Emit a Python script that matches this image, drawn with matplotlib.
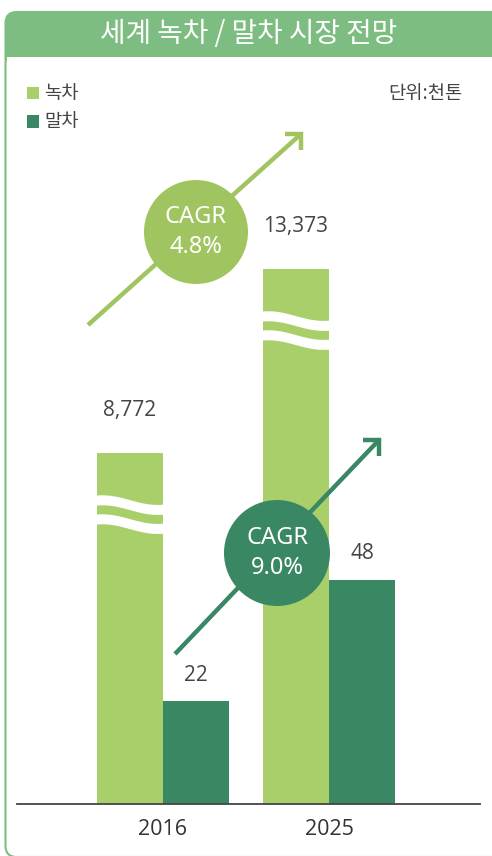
import matplotlib
matplotlib.use('Agg')
import matplotlib.pyplot as plt
import numpy as np
from matplotlib.patches import FancyBboxPatch, Rectangle, Circle, Polygon
from matplotlib.lines import Line2D

# ---- data ----
years = ['2016', '2025']
green_tea = [8772, 13373]      # 녹차 (thousand tons)
matcha = [22, 48]              # 말차 (thousand tons)
series_names = ['녹차', '말차']
cagr_labels = ['CAGR\n4.8%', 'CAGR\n9.0%']
title_text = '세계 녹차 / 말차 시장 전망'
unit_text = '단위:천톤'

# ---- style ----
C_LIGHT = '#a9cf6b'
C_DARK = '#3a8764'
C_LIGHT_DECO = '#a0c45f'
C_FRAME = '#7dbd82'
C_TEXT = '#444444'

plt.rcParams['font.family'] = ['Noto Sans CJK KR', 'DejaVu Sans']
NUM_FONT = ['Open Sans', 'Noto Sans CJK KR', 'DejaVu Sans']

W, H = 492, 856
fig = plt.figure(figsize=(W / 100, H / 100), dpi=100)
T = fig.dpi_scale_trans


def inch(x, y):
    return (x / 100, (H - y) / 100)


def ftxt(x, y, s, **kw):
    return fig.text(x / W, 1 - y / H, s, **kw)


# ---- frame and banner ----
banner = FancyBboxPatch(inch(5.5, 67), (600 - 5.5) / 100, 0.55,
                        boxstyle='round,pad=0,rounding_size=0.11',
                        transform=T, facecolor=C_FRAME, edgecolor='none', zorder=1)
fig.add_artist(banner)
cover = Rectangle(inch(7, 69), 6.0, 0.12, transform=T, facecolor='white',
                  edgecolor='none', zorder=1.5)
fig.add_artist(cover)
frame = FancyBboxPatch(inch(5.5, 857), (600 - 5.5) / 100, (857 - 12) / 100,
                       boxstyle='round,pad=0,rounding_size=0.11',
                       transform=T, facecolor='none', edgecolor=C_FRAME,
                       linewidth=1.5, zorder=2)
fig.add_artist(frame)
ftxt(249, 34, title_text, color='white', fontsize=20, fontweight='medium',
     ha='center', va='center', zorder=3)

# ---- legend + unit ----
for i, (name, col) in enumerate(zip(series_names, [C_LIGHT, C_DARK])):
    yc = 93 + i * 28.5
    fig.add_artist(Rectangle(inch(27, yc + 6), 0.12, 0.12, transform=T,
                             facecolor=col, edgecolor='none', zorder=3))
    ftxt(44, yc, name, color=C_TEXT, fontsize=13.5, ha='left', va='center')
ftxt(463, 94, unit_text, color=C_TEXT, fontsize=13.5, ha='right', va='center')

# ---- axes ----
ax_left, ax_right, ax_bottom, ax_top = 17, 480, 804, 150
ax = fig.add_axes([ax_left / W, (H - ax_bottom) / H, (ax_right - ax_left) / W,
                   (ax_bottom - ax_top) / H])
ax_h_px = ax_bottom - ax_top
GT_MAX = 16350
MT_MAX = 140
ax.set_ylim(0, GT_MAX)
group_px = 166
x0_px = 163
ax.set_xlim(-(x0_px - ax_left) / group_px, (ax_right - x0_px) / group_px)
bw = 66 / group_px

ax2 = ax.twinx()
ax2.set_ylim(0, MT_MAX)

x = np.arange(len(years))
ax.bar(x - bw / 2, green_tea, width=bw, color=C_LIGHT, zorder=2)
ax2.bar(x + bw / 2, matcha, width=bw, color=C_DARK, zorder=2)

# broken-bar wave marks on 녹차 bars
k = GT_MAX / ax_h_px  # data units per pixel
t = np.linspace(0, 1, 60)
for xi, v in zip(x - bw / 2, green_tea):
    xs = xi - bw / 2 + t * bw
    for off in (52, 71):
        mid = v - off * k + 4.8 * k * np.cos(np.pi * (1.2 * t - 0.1))
        top = mid + 5.0 * k
        bot = mid - 5.0 * k
        pts = np.column_stack([np.concatenate([xs, xs[::-1]]),
                               np.concatenate([top, bot[::-1]])])
        ax.add_patch(Polygon(pts, closed=True, facecolor='white',
                             edgecolor='none', zorder=3))

# value labels
for xi, v in zip(x - bw / 2, green_tea):
    ax.annotate(f'{v:,}', (xi, v), xytext=(0, 43), textcoords='offset pixels',
                ha='center', va='center', fontsize=15, color=C_TEXT, family=NUM_FONT)
for xi, v in zip(x + bw / 2, matcha):
    ax2.annotate(f'{v:,}', (xi, v), xytext=(0, 26), textcoords='offset pixels',
                 ha='center', va='center', fontsize=15, color=C_TEXT, family=NUM_FONT)

for a in (ax, ax2):
    for s in a.spines.values():
        s.set_visible(False)
    a.set_yticks([])
    a.patch.set_visible(False)
ax2.spines['bottom'].set_visible(True)
ax2.spines['bottom'].set_color('#444444')
ax2.spines['bottom'].set_linewidth(1.3)
ax2.spines['bottom'].set_zorder(5)
ax.set_xticks(x, years)
ax.tick_params(axis='x', length=0, pad=11, labelsize=15.5, labelcolor='#333333')
for lab in ax.get_xticklabels():
    lab.set_family(NUM_FONT)

# ---- CAGR arrows and circles ----
def arrow(start, corner, arm, color):
    sx, sy = inch(*start)
    cx, cy = inch(*corner)
    fig.add_artist(Line2D([sx, cx], [sy, cy], transform=T, color=color,
                          linewidth=3.2, solid_capstyle='butt', zorder=6))
    hx, hy = inch(corner[0] - arm, corner[1])
    vx, vy = inch(corner[0], corner[1] + arm)
    fig.add_artist(Line2D([hx, cx, vx], [hy, cy, vy], transform=T, color=color,
                          linewidth=3.2, solid_capstyle='butt',
                          solid_joinstyle='miter', zorder=6))


arrow((88, 325), (301, 134), 16, C_LIGHT_DECO)
arrow((175, 654), (379, 440), 16, C_DARK)

for (cx, cy), r, col, lab in [((196, 232), 52, C_LIGHT_DECO, cagr_labels[0]),
                               ((277, 553), 53, C_DARK, cagr_labels[1])]:
    fig.add_artist(Circle(inch(cx, cy), r / 100, transform=T, facecolor=col,
                          edgecolor='none', zorder=7))
    l1, l2 = lab.split('\n')
    ftxt(cx, cy - 15, l1, color='white', fontsize=17, ha='center', va='center',
         family=['Noto Sans', 'DejaVu Sans'], zorder=8)
    ftxt(cx, cy + 15, l2, color='white', fontsize=17, ha='center', va='center',
         family=['Noto Sans', 'DejaVu Sans'], zorder=8)

fig.savefig('out.png', dpi=100)
